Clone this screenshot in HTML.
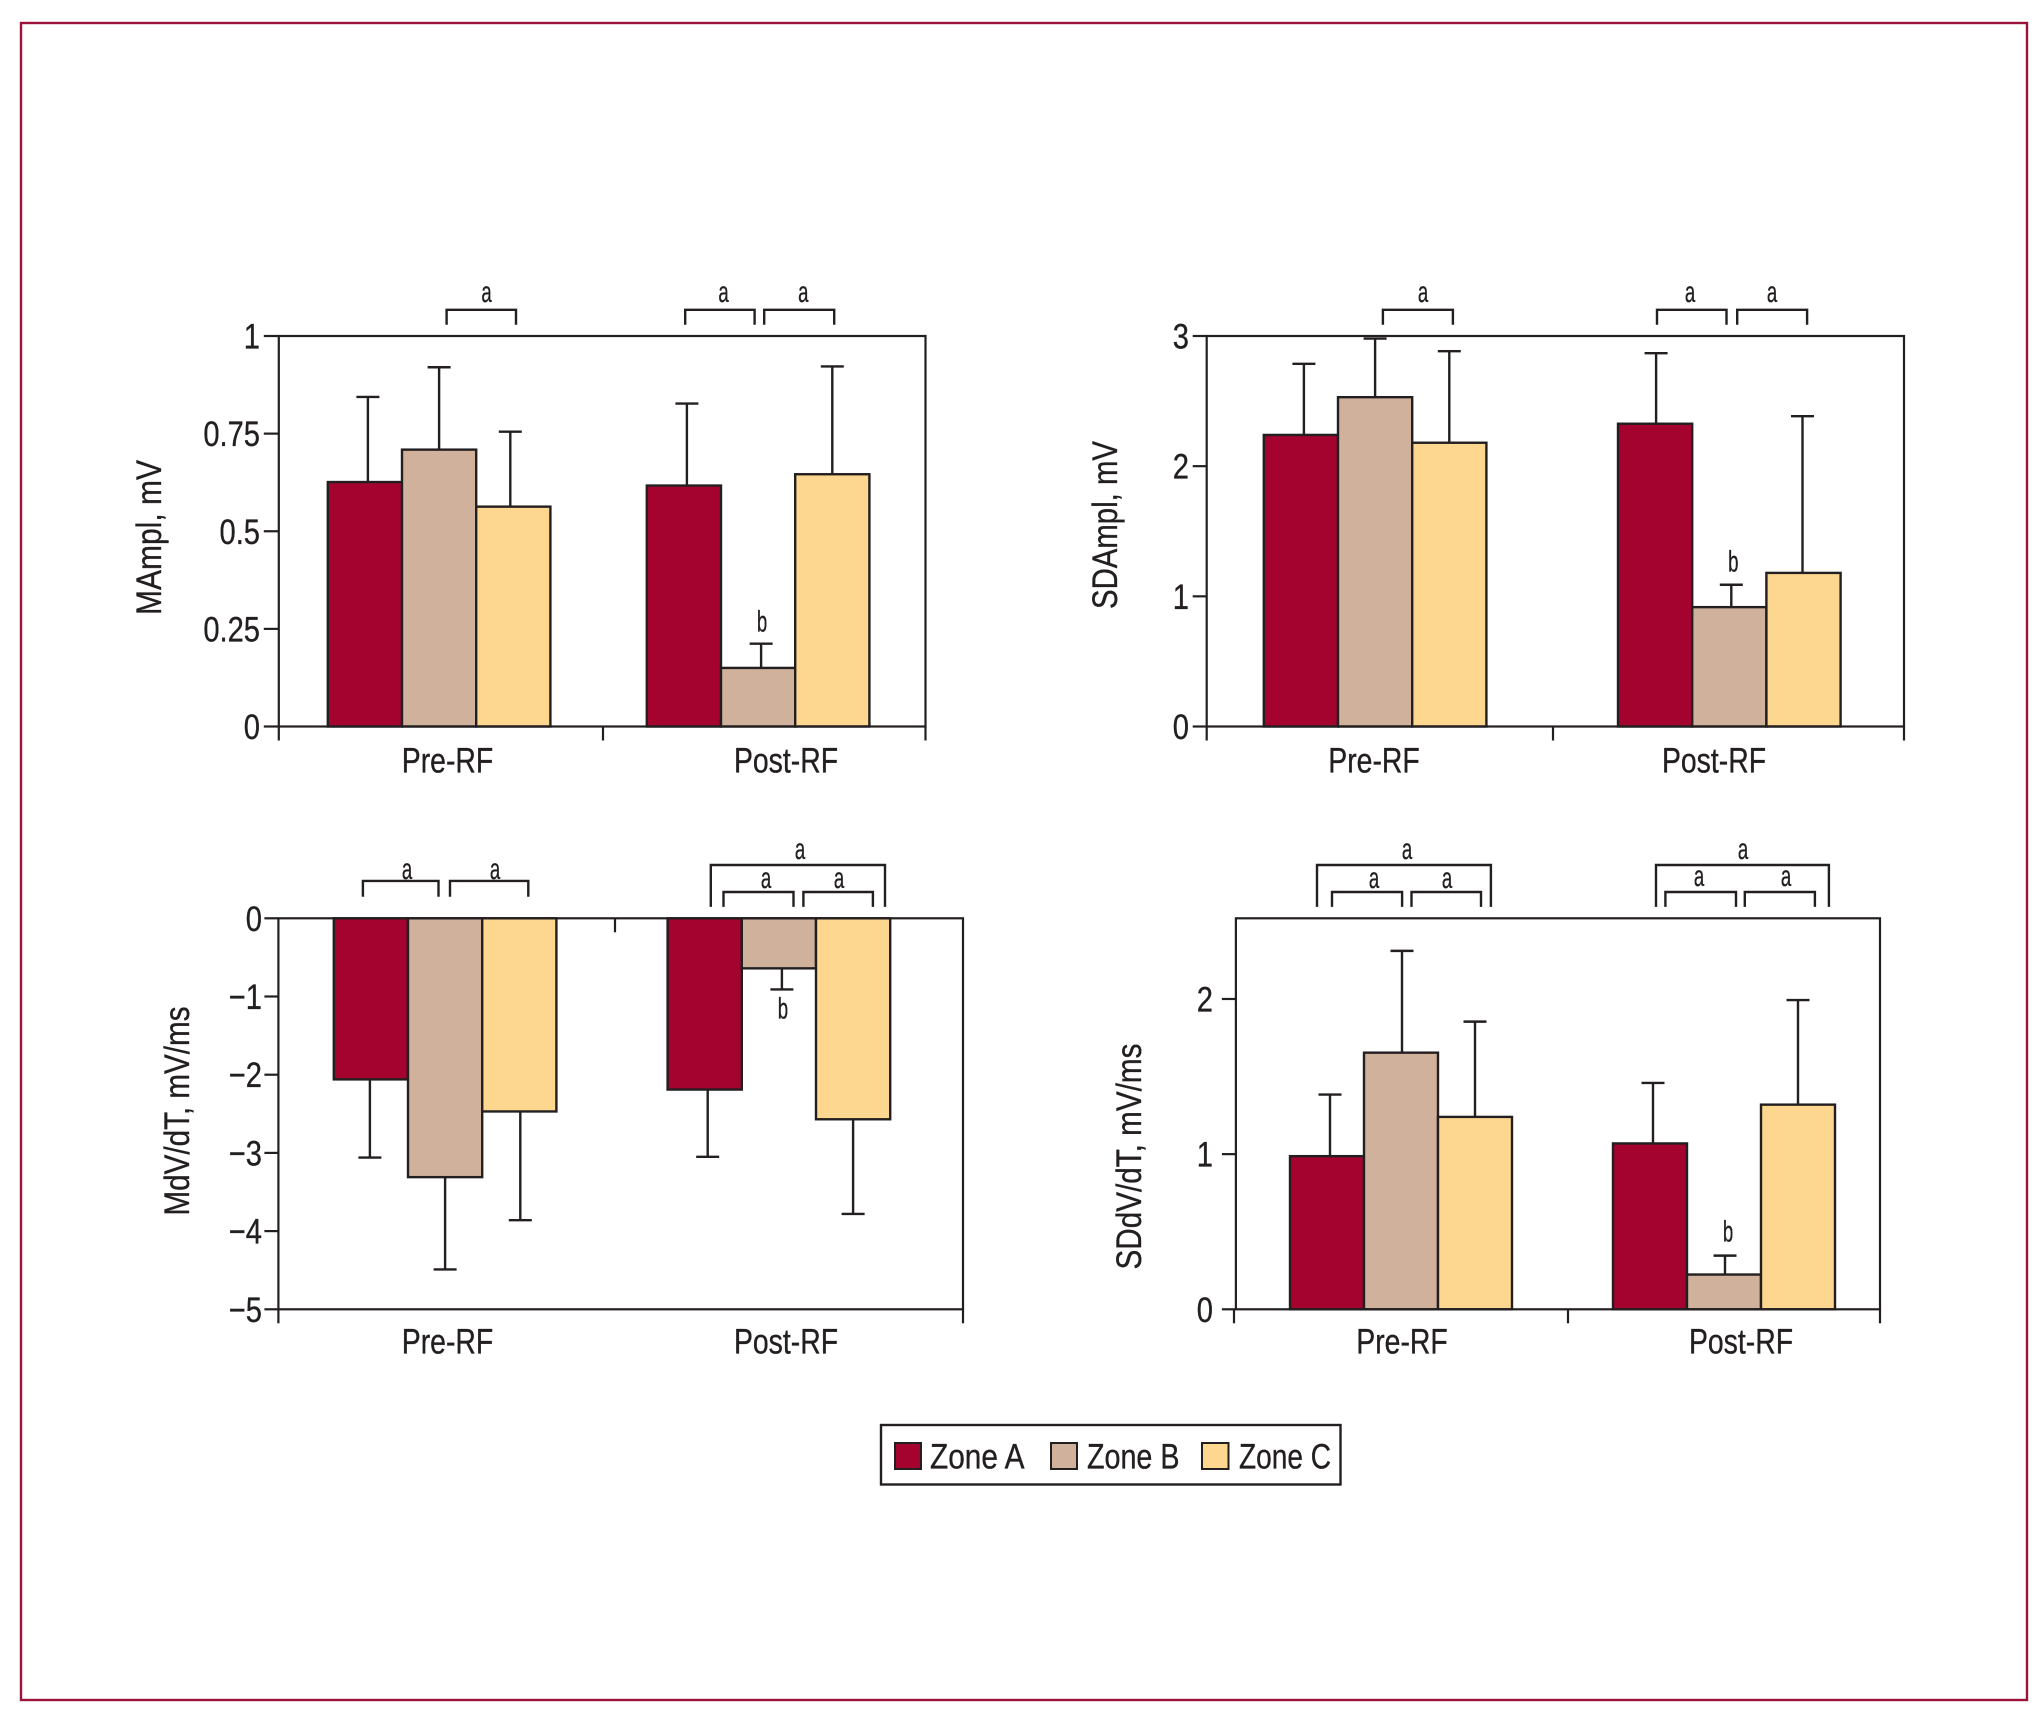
<!DOCTYPE html>
<html lang="en">
<head>
<meta charset="utf-8">
<title>Electrogram amplitude and dV/dT by zone, pre- and post-RF</title>
<style>
html,body{margin:0;padding:0;background:#fff;}
svg{display:block;}
text{font-family:"Liberation Sans",Arial,sans-serif;fill:#231f20;stroke:#231f20;stroke-width:.35;}
.br{fill:none;stroke:#231f20;stroke-width:2.4;transform:translateX(-2px);}
.sig{font-size:30px;text-anchor:middle;}
</style>
</head>
<body>
<svg id="figure" xmlns="http://www.w3.org/2000/svg" width="2041" height="1720" viewBox="0 0 2041 1720">
<rect x="0" y="0" width="2041" height="1720" fill="#fff"/>
<rect x="21" y="23" width="2006" height="1677" fill="none" stroke="#9c1238" stroke-width="2.4"/>

<g>
<path class="br" d="M448.6 324.7V309.8H518V324.7"/><text class="sig" transform="translate(486.5,302) scale(.62,1)">a</text>
<path class="br" d="M687.2 324.7V309.8H756.6V324.7"/><text class="sig" transform="translate(723.5,302) scale(.62,1)">a</text>
<path class="br" d="M766.2 324.7V309.8H836.2V324.7"/><text class="sig" transform="translate(803.3,302) scale(.62,1)">a</text>
</g>
<g>
<path class="br" d="M1384.9 324.7V309.8H1454.9V324.7"/><text class="sig" transform="translate(1423,302) scale(.62,1)">a</text>
<path class="br" d="M1659 324.7V309.8H1728.5V324.7"/><text class="sig" transform="translate(1690,302) scale(.62,1)">a</text>
<path class="br" d="M1739.2 324.7V309.8H1809.1V324.7"/><text class="sig" transform="translate(1772,302) scale(.62,1)">a</text>
</g>
<g>
<path class="br" d="M364.9 896.8V880.9H440.5V896.8"/><text class="sig" transform="translate(407,879) scale(.62,1)">a</text>
<path class="br" d="M452 896.8V880.9H530.3V896.8"/><text class="sig" transform="translate(495,879) scale(.62,1)">a</text>
<path class="br" d="M712.8 906.9V865H887V906.9"/><text class="sig" transform="translate(800,859) scale(.62,1)">a</text>
<path class="br" d="M725.5 906.9V892H795.5V906.9"/><text class="sig" transform="translate(766,888) scale(.62,1)">a</text>
<path class="br" d="M805.4 906.9V892H874.9V906.9"/><text class="sig" transform="translate(839,888) scale(.62,1)">a</text>
</g>
<g>
<path class="br" d="M1319 906.9V865H1492.9V906.9"/><text class="sig" transform="translate(1407,859) scale(.62,1)">a</text>
<path class="br" d="M1334 906.9V892H1404.1V906.9"/><text class="sig" transform="translate(1374,888) scale(.62,1)">a</text>
<path class="br" d="M1413.5 906.9V892H1483V906.9"/><text class="sig" transform="translate(1447,888) scale(.62,1)">a</text>
<path class="br" d="M1658 906.9V865H1830.9V906.9"/><text class="sig" transform="translate(1743,859) scale(.62,1)">a</text>
<path class="br" d="M1667.4 906.9V892H1738V906.9"/><text class="sig" transform="translate(1699,886) scale(.62,1)">a</text>
<path class="br" d="M1746.8 906.9V892H1816.9V906.9"/><text class="sig" transform="translate(1786,886) scale(.62,1)">a</text>
</g>

<g>
<rect x="881" y="1425" width="459.5" height="59.5" fill="#fff" stroke="#231f20" stroke-width="2.4"/>
<g>
<rect x="895" y="1443" width="26" height="26" fill="#a5032f" stroke="#231f20" stroke-width="2"/>
<text x="930" y="1468.5" font-size="35" textLength="94.5" lengthAdjust="spacingAndGlyphs">Zone A</text>
</g>
<g>
<rect x="1051" y="1443" width="26" height="26" fill="#d0b19c" stroke="#231f20" stroke-width="2"/>
<text x="1087" y="1468.5" font-size="35" textLength="92.5" lengthAdjust="spacingAndGlyphs">Zone B</text>
</g>
<g>
<rect x="1202" y="1443" width="26.5" height="26" fill="#fdd78f" stroke="#231f20" stroke-width="2"/>
<text x="1239" y="1468.5" font-size="35" textLength="92" lengthAdjust="spacingAndGlyphs">Zone C</text>
</g>
</g>

<g id="charts"></g>
</svg>

<script>
// Shared categories and series
var categories = ['Pre-RF', 'Post-RF'];
var zones = ['Zone A', 'Zone B', 'Zone C'];
var zoneColors = ['#a5032f', '#d0b19c', '#fdd78f'];

// MAmpl, mV
var mamplTickValues = [0, 0.25, 0.5, 0.75, 1];
var mamplTickLabels = ['0', '0.25', '0.5', '0.75', '1'];
var mamplPre = [0.626, 0.709, 0.563];
var mamplPost = [0.617, 0.15, 0.646];
var mamplPreErr = [0.844, 0.92, 0.755];
var mamplPostErr = [0.827, 0.212, 0.922];

// SDAmpl, mV
var sdamplTickValues = [0, 1, 2, 3];
var sdamplTickLabels = ['0', '1', '2', '3'];
var sdamplPre = [2.24, 2.53, 2.18];
var sdamplPost = [2.326, 0.917, 1.18];
var sdamplPreErr = [2.786, 2.98, 2.883];
var sdamplPostErr = [2.868, 1.089, 2.384];

// MdV/dT, mV/ms
var mdvdtTickValues = [0, -1, -2, -3, -4, -5];
var mdvdtTickLabels = ['0', '\u22121', '\u22122', '\u22123', '\u22124', '\u22125'];
var mdvdtPre = [-2.06, -3.31, -2.47];
var mdvdtPost = [-2.19, -0.64, -2.57];
var mdvdtPreErr = [-3.06, -4.49, -3.86];
var mdvdtPostErr = [-3.05, -0.91, -3.78];

// SDdV/dT, mV/ms
var sddvdtTickValues = [0, 1, 2];
var sddvdtTickLabels = ['0', '1', '2'];
var sddvdtPre = [0.987, 1.654, 1.24];
var sddvdtPost = [1.069, 0.224, 1.319];
var sddvdtPreErr = [1.384, 2.31, 1.854];
var sddvdtPostErr = [1.459, 0.346, 1.993];

var SVGNS = 'http://www.w3.org/2000/svg';
var INK = '#231f20';
var root = document.getElementById('charts');

function makeLine(parent, name, x1, y1, x2, y2, w) {
  var el = document.createElementNS(SVGNS, 'line');
  
  
  el.setAttribute('x1', x1);
  el.setAttribute('y1', y1);
  el.setAttribute('x2', x2);
  el.setAttribute('y2', y2);
  el.setAttribute('stroke', INK);
  el.setAttribute('stroke-width', w);
  parent.appendChild(el);
  return el;
}

function makeText(parent, name, str, x, y, size, anchor, sx) {
  var el = document.createElementNS(SVGNS, 'text');
  
  
  el.setAttribute('transform', 'translate(' + x + ',' + y + ') scale(' + sx + ',1)');
  el.setAttribute('font-size', size);
  el.setAttribute('text-anchor', anchor);
  el.textContent = str;
  parent.appendChild(el);
  return el;
}

function drawChart(c) {
  var g = document.createElementNS(SVGNS, 'g');
  
  
  root.appendChild(g);

  // Axis functions
  function y(v) {
    return c.yBase + (v - c.baseValue) / (c.domainEnd - c.baseValue) * (c.yEnd - c.yBase);
  }
  function barLeft(groupIndex, zoneIndex) {
    return c.groupLeft[groupIndex] + zoneIndex * c.barWidth;
  }

  var plotTop = Math.min(y(c.baseValue), y(c.domainEnd));
  var plotBottom = Math.max(y(c.baseValue), y(c.domainEnd));

  // Error bars sit behind the bars
  var errG = document.createElementNS(SVGNS, 'g');
  
  
  g.appendChild(errG);

  var barG = document.createElementNS(SVGNS, 'g');
  
  
  g.appendChild(barG);

  c.means.forEach(function (series, gi) {
    series.forEach(function (v, zi) {
      var left = barLeft(gi, zi);
      var cx = left + c.barWidth / 2 + c.stemShift[gi * 3 + zi];
      var label = categories[gi].toLowerCase() + '-' + zones[zi].toLowerCase().replace(' ', '-');
      var y0 = y(c.baseValue);
      var y1 = y(v);

      var cap = y(c.errors[gi][zi]);
      makeLine(errG, 'error-bar-' + label, cx, y1, cx, cap, 2.4);
      makeLine(errG, 'error-cap-' + label, cx - 11.5, cap, cx + 11.5, cap, 2.4);

      var bar = document.createElementNS(SVGNS, 'rect');
      
      
      bar.setAttribute('x', left);
      bar.setAttribute('y', Math.min(y0, y1));
      bar.setAttribute('width', c.barWidth);
      bar.setAttribute('height', Math.abs(y1 - y0));
      bar.setAttribute('fill', zoneColors[zi]);
      bar.setAttribute('stroke', INK);
      bar.setAttribute('stroke-width', 2.4);
      barG.appendChild(bar);
    });
  });

  // Frame
  var frame = document.createElementNS(SVGNS, 'rect');
  
  
  frame.setAttribute('x', c.left);
  frame.setAttribute('y', plotTop);
  frame.setAttribute('width', c.right - c.left);
  frame.setAttribute('height', plotBottom - plotTop);
  frame.setAttribute('fill', 'none');
  frame.setAttribute('stroke', INK);
  frame.setAttribute('stroke-width', 2.2);
  g.appendChild(frame);

  // Y ticks
  c.tickValues.forEach(function (t, i) {
    var ty = y(t);
    makeLine(g, 'y-tick-' + i, c.left - c.tickLen, ty, c.left, ty, 2.2);
    makeText(g, 'y-tick-label-' + i, c.tickLabels[i], c.tickRight, ty + 12.5, 35.5, 'end', 0.82);
  });

  // X ticks under the plot
  makeLine(g, 'x-tick-left', c.xAxisLeft, plotBottom, c.xAxisLeft, plotBottom + 14, 2.2);
  makeLine(g, 'x-tick-right', c.right, plotBottom, c.right, plotBottom + 14, 2.2);
  if (c.midTickDown) {
    makeLine(g, 'x-tick-middle', c.mid, plotBottom, c.mid, plotBottom + 14, 2.2);
  } else {
    makeLine(g, 'x-tick-middle', c.mid, plotTop, c.mid, plotTop + 14, 2.2);
  }

  // Category labels
  categories.forEach(function (name, i) {
    makeText(g, 'x-label-' + name.toLowerCase(), name, c.labelX[i], plotBottom + c.labelDrop, 35.5, 'middle', 0.8);
  });

  // Y-axis title
  var title = document.createElementNS(SVGNS, 'text');
  
  
  title.setAttribute('transform', 'translate(' + c.titleX + ',' + c.titleY + ') rotate(-90)');
  title.setAttribute('font-size', 35);
  title.setAttribute('text-anchor', 'middle');
  title.setAttribute('textLength', c.titleLen);
  title.setAttribute('lengthAdjust', 'spacingAndGlyphs');
  title.textContent = c.title;
  g.appendChild(title);

  // Significance mark tied to the Post-RF Zone B error bar
  var bx = barLeft(1, 1) + c.barWidth / 2 + 4;
  var by = y(c.errors[1][1]) + c.sigOffset;
  var sig = makeText(g, 'significance-b', 'b', bx, by, 30, 'middle', 0.62);
  sig.setAttribute('class', 'sig-b');
}

drawChart({
  id: 'mampl', title: 'MAmpl, mV', titleX: 161, titleY: 537.5, titleLen: 155,
  means: [mamplPre, mamplPost], errors: [mamplPreErr, mamplPostErr],
  tickValues: mamplTickValues, tickLabels: mamplTickLabels,
  baseValue: 0, domainEnd: 1, yBase: 726.5, yEnd: 336,
  left: 278.8, right: 925.5, xAxisLeft: 278.8, mid: 603, midTickDown: true,
  tickLen: 15, tickRight: 260,
  groupLeft: [327.8, 646.8], barWidth: 74.2, stemShift: [3, 0, -3, 3, 3, 0],
  labelX: [447.5, 786], labelDrop: 46, sigOffset: -12
});

drawChart({
  id: 'sdampl', title: 'SDAmpl, mV', titleX: 1117, titleY: 525, titleLen: 168,
  means: [sdamplPre, sdamplPost], errors: [sdamplPreErr, sdamplPostErr],
  tickValues: sdamplTickValues, tickLabels: sdamplTickLabels,
  baseValue: 0, domainEnd: 3, yBase: 726.5, yEnd: 336,
  left: 1206.7, right: 1904, xAxisLeft: 1206.7, mid: 1553, midTickDown: true,
  tickLen: 14, tickRight: 1189,
  groupLeft: [1263.8, 1618], barWidth: 74.2, stemShift: [3, 0, 0, 1, 2, -1],
  labelX: [1374, 1714], labelDrop: 46, sigOffset: -13
});

drawChart({
  id: 'mdvdt', title: 'MdV/dT, mV/ms', titleX: 189, titleY: 1111, titleLen: 209,
  means: [mdvdtPre, mdvdtPost], errors: [mdvdtPreErr, mdvdtPostErr],
  tickValues: mdvdtTickValues, tickLabels: mdvdtTickLabels,
  baseValue: 0, domainEnd: -5, yBase: 918.3, yEnd: 1309.3,
  left: 278.4, right: 963, xAxisLeft: 278.4, mid: 615, midTickDown: false,
  tickLen: 14, tickRight: 262,
  groupLeft: [333.8, 667.6], barWidth: 74.2, stemShift: [-1, 0, 1, 3, 3, 0],
  labelX: [447.5, 786], labelDrop: 44, sigOffset: 29
});

drawChart({
  id: 'sddvdt', title: 'SDdV/dT, mV/ms', titleX: 1141, titleY: 1156.5, titleLen: 226,
  means: [sddvdtPre, sddvdtPost], errors: [sddvdtPreErr, sddvdtPostErr],
  tickValues: sddvdtTickValues, tickLabels: sddvdtTickLabels,
  baseValue: 0, domainEnd: 2.52, yBase: 1309.3, yEnd: 918.3,
  left: 1235.9, right: 1880, xAxisLeft: 1234, mid: 1568, midTickDown: true,
  tickLen: 14, tickRight: 1213,
  groupLeft: [1290, 1613], barWidth: 74, stemShift: [3, 1, 0, 3, 1, 0],
  labelX: [1402, 1741], labelDrop: 44, sigOffset: -14
});
</script>
</body>
</html>
